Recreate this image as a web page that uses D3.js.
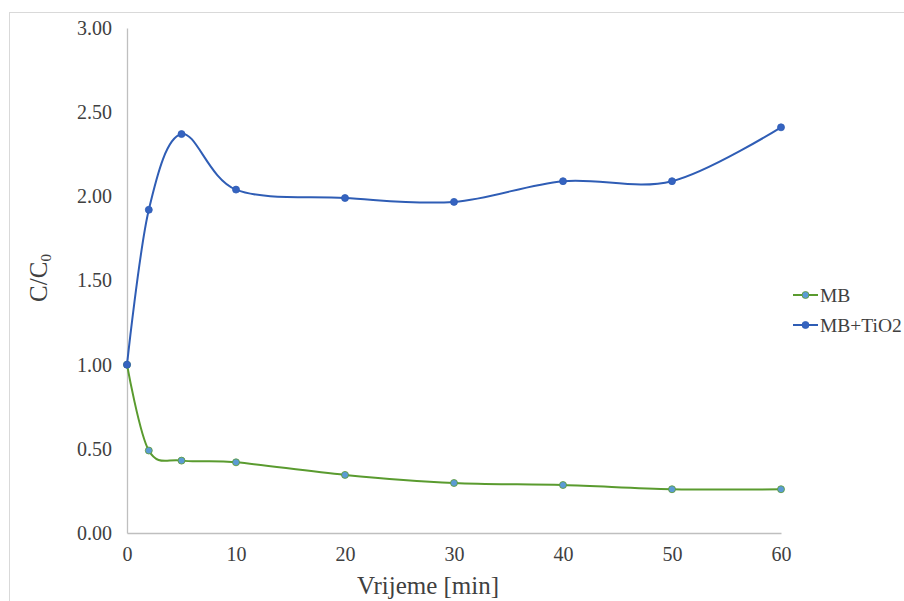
<!DOCTYPE html>
<html><head><meta charset="utf-8">
<script src="https://cdn.jsdelivr.net/npm/d3@7"></script>
<style>body{margin:0;background:#fff}svg{display:block}
svg text{font-family:"Liberation Serif","Times New Roman",Tinos,"DejaVu Serif",serif !important}</style>
</head><body>
<script>
const times = [0, 2, 5, 10, 20, 30, 40, 50, 60];
const mbValues = [1.00, 0.49, 0.43, 0.42, 0.345, 0.297, 0.285, 0.26, 0.26];
const mbTiO2Values = [1.00, 1.92, 2.37, 2.04, 1.99, 1.967, 2.09, 2.09, 2.41];
const xTicks = [0, 10, 20, 30, 40, 50, 60];
const yTicks = [0, 0.5, 1, 1.5, 2, 2.5, 3];
const seriesNames = ["MB", "MB+TiO2"];

const W = 904, H = 601;
const svg = d3.select("body").append("svg").attr("width", W).attr("height", H);
svg.append("rect").attr("x", 9.5).attr("y", 12.5).attr("width", 900).attr("height", 600)
  .attr("fill", "#fff").attr("stroke", "#d9d9d9");

const x = d3.scaleLinear().domain([0, 60]).range([127, 781]);
const y = d3.scaleLinear().domain([0, 3]).range([533, 28]);

const xAxis = svg.append("g").attr("transform", "translate(0,533)")
  .call(d3.axisBottom(x).tickValues(xTicks).tickSize(0).tickPadding(14).tickFormat(d3.format("d")));
const yAxis = svg.append("g").attr("transform", "translate(127,0)")
  .call(d3.axisLeft(y).tickValues(yTicks).tickSize(0).tickPadding(15).tickFormat(d3.format(".2f")));
[xAxis, yAxis].forEach(g => {
  g.attr("font-family", null);
  g.select(".domain").attr("stroke", "#bfbfbf").attr("stroke-width", 1.3);
  g.selectAll("text").attr("font-size", 20).attr("fill", "#404040");
});

const line = d3.line().x((d, i) => x(times[i])).y(d => y(d)).curve(d3.curveCatmullRom.alpha(0));

const series = [
  {name: seriesNames[0], values: mbValues, line: "#5a9b2f", fill: "#5b9bd5", stroke: "#5a9b2f"},
  {name: seriesNames[1], values: mbTiO2Values, line: "#2f5db5", fill: "#3563c0", stroke: "#2f5db5"}
];

series.forEach(s => {
  svg.append("path").attr("d", line(s.values)).attr("fill", "none")
    .attr("stroke", s.line).attr("stroke-width", 2);
  svg.append("g").selectAll("circle").data(s.values).join("circle")
    .attr("cx", (d, i) => x(times[i])).attr("cy", d => y(d)).attr("r", 3.5)
    .attr("fill", s.fill).attr("stroke", s.stroke).attr("stroke-width", 0.8);
});

series.forEach((s, i) => {
  const ly = 295 + i * 30;
  svg.append("line").attr("x1", 793).attr("x2", 818).attr("y1", ly).attr("y2", ly)
    .attr("stroke", s.line).attr("stroke-width", 2);
  svg.append("circle").attr("cx", 805.5).attr("cy", ly).attr("r", 3.5)
    .attr("fill", s.fill).attr("stroke", s.stroke).attr("stroke-width", 0.8);
  svg.append("text").attr("x", 820).attr("y", ly + 7).text(s.name)
    .attr("font-size", 19.5).attr("fill", "#404040");
});

svg.append("text").attr("x", 428).attr("y", 594).attr("text-anchor", "middle")
  .attr("font-size", 25).attr("fill", "#404040").text("Vrijeme [min]");
const yt = svg.append("text").attr("transform", "translate(47,278) rotate(-90)")
  .attr("text-anchor", "middle").attr("font-size", 25).attr("fill", "#404040");
yt.append("tspan").text("C/C");
yt.append("tspan").attr("font-size", 15).attr("dy", 4).text("0");
</script>
</body></html>
